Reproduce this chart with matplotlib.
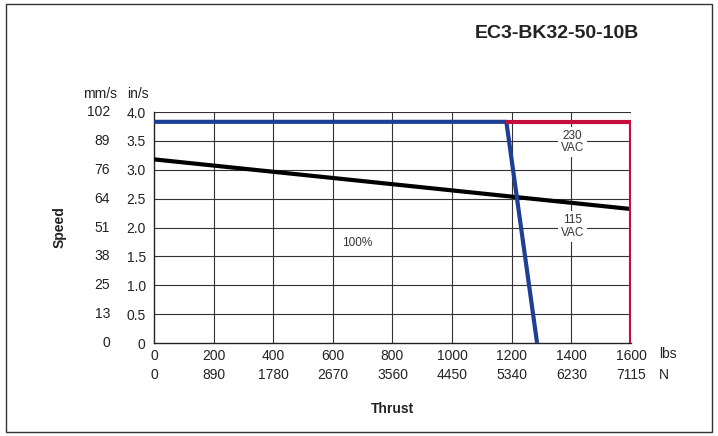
import matplotlib.pyplot as plt
from matplotlib.patches import Rectangle

plt.rcParams['font.family'] = ['Liberation Sans Narrow', 'Liberation Sans', 'DejaVu Sans']

# Data
thrust_lbs = [0, 200, 400, 600, 800, 1000, 1200, 1400, 1600]
thrust_n = ['0', '890', '1780', '2670', '3560', '4450', '5340', '6230', '7115']
speed_in = [0, 0.5, 1.0, 1.5, 2.0, 2.5, 3.0, 3.5, 4.0]
speed_in_lbl = ['0', '0.5', '1.0', '1.5', '2.0', '2.5', '3.0', '3.5', '4.0']
speed_mm = ['0', '13', '25', '38', '51', '64', '76', '89', '102']

# 100% duty curve (black)
duty_x = [0, 1600]
duty_y = [3.18, 2.32]
# 115 VAC (blue)
v115_x = [0, 1182, 1285]
v115_y = [3.83, 3.83, 0]
# 230 VAC (red)
v230_x = [1182, 1600, 1600]
v230_y = [3.83, 3.83, 0]

fig = plt.figure(figsize=(7.18, 4.36), dpi=100)
fig.patches.append(Rectangle((6 / 718, 4 / 436), 706 / 718, 428 / 436, transform=fig.transFigure,
                             fill=False, edgecolor='#333333', linewidth=1.0))
ax = fig.add_axes([0.2145, 0.2133, 0.6643, 0.5298])

ax.set_xlim(0, 1600)
ax.set_ylim(0, 4.0)

for x in thrust_lbs[1:]:
    ax.axvline(x, color='#333333', lw=0.8, zorder=1)
for y in speed_in[1:]:
    ax.axhline(y, color='#333333', lw=0.8, zorder=1)

ax.plot(duty_x, duty_y, color='black', lw=3, zorder=3, solid_capstyle='butt')
ax.plot(v115_x, v115_y, color='#1f3f95', lw=3, zorder=4, solid_capstyle='butt')
ax.plot(v230_x, v230_y, color='#c40f3e', lw=3, zorder=4, solid_capstyle='butt')

ax.spines['right'].set_visible(False)
ax.spines['top'].set_visible(False)
for s in ['left', 'bottom']:
    ax.spines[s].set_color('#222222')
    ax.spines[s].set_linewidth(1.0)

ax.set_xticks(thrust_lbs)
ax.set_xticklabels([str(v) for v in thrust_lbs])
ax.set_yticks(speed_in)
ax.set_yticklabels(speed_in_lbl)
ax.tick_params(length=0, labelsize=10, colors='#222222', pad=4)
ax.tick_params(axis='y', pad=6)

# second rows of labels
for x, lab in zip(thrust_lbs, thrust_n):
    ax.text(x, -0.56, lab, ha='center', va='center', fontsize=10, color='#222222')
for y, lab in zip(speed_in, speed_mm):
    ax.text(-148, y, lab, ha='right', va='center', fontsize=10, color='#222222')

ax.text(1695, -0.19, 'lbs', ha='left', va='center', fontsize=10, color='#222222')
ax.text(1695, -0.56, 'N', ha='left', va='center', fontsize=10, color='#222222')
ax.text(-182, 4.32, 'mm/s', ha='center', va='center', fontsize=10, color='#222222')
ax.text(-55, 4.32, 'in/s', ha='center', va='center', fontsize=10, color='#222222')

ax.text(-318, 2.0, 'Speed', rotation=90, ha='center', va='center', fontsize=10,
        fontweight='bold', color='#222222')
ax.text(800, -1.15, 'Thrust', ha='center', va='center', fontsize=10,
        fontweight='bold', color='#222222')

box = dict(facecolor='white', edgecolor='none', pad=2)
ax.text(1403, 3.48, '230\nVAC', ha='center', va='center', fontsize=8.5, color='#333333',
        bbox=box, zorder=5, linespacing=1.1)
ax.text(1403, 2.02, '115\nVAC', ha='center', va='center', fontsize=8.5, color='#333333',
        bbox=box, zorder=5, linespacing=1.1)
ax.text(680, 1.73, '100%', ha='center', va='center', fontsize=8.5, color='#333333', zorder=5)

fig.text(639 / 718, 1 - 33 / 436, 'EC3-BK32-50-10B', ha='right', va='center',
         fontsize=14, fontweight='bold', color='#222222')

fig.savefig('out.png', dpi=100)
